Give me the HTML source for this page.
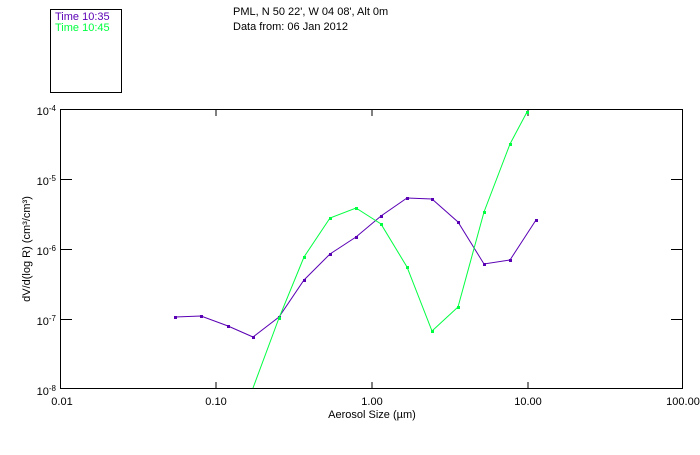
<!DOCTYPE html>
<html><head><style>
body{margin:0;background:#fff;width:700px;height:450px;overflow:hidden}
svg text{font-family:"Liberation Sans",sans-serif;font-size:11px}
</style></head><body>
<svg width="700" height="450" viewBox="0 0 700 450" xmlns="http://www.w3.org/2000/svg">
<rect x="50.5" y="9.5" width="71" height="83" fill="none" stroke="#000"/>
<text x="55" y="20" fill="#5a00b4">Time 10:35</text>
<text x="55" y="31" fill="#00ff40">Time 10:45</text>
<text x="233" y="15" fill="#000">PML, N 50 22', W 04 08', Alt 0m</text>
<text x="233" y="30" fill="#000">Data from: 06 Jan 2012</text>
<rect x="60.5" y="109.5" width="622" height="279" fill="none" stroke="#000"/>
<g stroke="#000">
<line x1="216" y1="109" x2="216" y2="116"/><line x1="372" y1="109" x2="372" y2="116"/><line x1="528" y1="109" x2="528" y2="116"/>
<line x1="216" y1="389" x2="216" y2="382"/><line x1="372" y1="389" x2="372" y2="382"/><line x1="528" y1="389" x2="528" y2="382"/>
<line x1="60" y1="179.5" x2="72" y2="179.5"/><line x1="60" y1="249.5" x2="72" y2="249.5"/><line x1="60" y1="319.5" x2="72" y2="319.5"/>
<line x1="683" y1="179.5" x2="671" y2="179.5"/><line x1="683" y1="249.5" x2="671" y2="249.5"/><line x1="683" y1="319.5" x2="671" y2="319.5"/>
</g>
<g fill="#000" text-anchor="end">
<text x="56" y="115">10<tspan dy="-4" font-size="8">-4</tspan></text>
<text x="56" y="185">10<tspan dy="-4" font-size="8">-5</tspan></text>
<text x="56" y="255">10<tspan dy="-4" font-size="8">-6</tspan></text>
<text x="56" y="325">10<tspan dy="-4" font-size="8">-7</tspan></text>
<text x="56" y="395">10<tspan dy="-4" font-size="8">-8</tspan></text>
</g>
<g fill="#000" text-anchor="middle">
<text x="62" y="405">0.01</text><text x="216" y="405">0.10</text><text x="372" y="405">1.00</text><text x="528" y="405">10.00</text><text x="683" y="405">100.00</text>
<text x="372" y="418">Aerosol Size (µm)</text>
</g>
<text transform="translate(30,249) rotate(-90)" text-anchor="middle" fill="#000">dV/d(log R) (cm³/cm³)</text>
<polyline fill="none" stroke="#5a00b4" points="175,317 201,316 228,326 253,337 279,317 304,280 330,254 356,237 381,216 407,198 432,199 458,222 484,264 510,260 536,220"/>
<g fill="#5a00b4"><rect x="174" y="316" width="3" height="3"/><rect x="200" y="315" width="3" height="3"/><rect x="227" y="325" width="3" height="3"/><rect x="252" y="336" width="3" height="3"/><rect x="278" y="316" width="3" height="3"/><rect x="303" y="279" width="3" height="3"/><rect x="329" y="253" width="3" height="3"/><rect x="355" y="236" width="3" height="3"/><rect x="380" y="215" width="3" height="3"/><rect x="406" y="197" width="3" height="3"/><rect x="431" y="198" width="3" height="3"/><rect x="457" y="221" width="3" height="3"/><rect x="483" y="263" width="3" height="3"/><rect x="509" y="259" width="3" height="3"/><rect x="535" y="219" width="3" height="3"/></g>
<polyline fill="none" stroke="#00ff40" points="253,388 279,318 304,257 330,218 356,208 381,224 407,267 432,331 458,307 484,212 510,144 527,112"/>
<g fill="#00ff40"><rect x="278" y="317" width="3" height="3"/><rect x="303" y="256" width="3" height="3"/><rect x="329" y="217" width="3" height="3"/><rect x="355" y="207" width="3" height="3"/><rect x="380" y="223" width="3" height="3"/><rect x="406" y="266" width="3" height="3"/><rect x="431" y="330" width="3" height="3"/><rect x="457" y="306" width="3" height="3"/><rect x="483" y="211" width="3" height="3"/><rect x="509" y="143" width="3" height="3"/><rect x="526" y="111" width="3" height="3"/></g>
</svg>
</body></html>
